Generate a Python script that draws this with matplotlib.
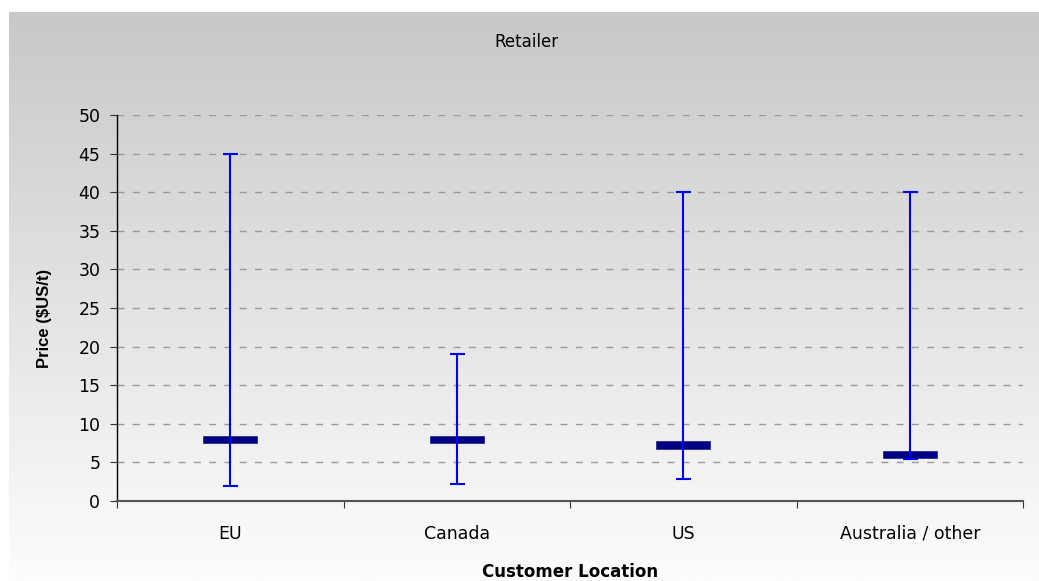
import matplotlib.pyplot as plt
import numpy as np

# price ranges by customer location (retailer)
locations = ['EU', 'Canada', 'US', 'Australia / other']
price_min = [1.9, 2.2, 2.9, 5.4]
price_max = [45, 19, 40, 40]
price_typical = [8.0, 8.0, 7.25, 6.05]

fig = plt.figure(figsize=(10.39, 5.81), dpi=100)
fig.patch.set_facecolor('white')

# gradient background of the chart area (grey at top, white at bottom)
bg = fig.add_axes([9 / 1039, 0, 1 - 9 / 1039, 1 - 12 / 581])
grad = np.linspace(0, 1, 256).reshape(-1, 1)
bg.imshow(grad, cmap=plt.matplotlib.colors.LinearSegmentedColormap.from_list(
    'bg', ['#c8c8c8', '#fdfdfd']), aspect='auto', extent=[0, 1, 0, 1], origin='upper')
bg.axis('off')

ax = fig.add_axes([117 / 1039, 1 - 501 / 581, (1023 - 117) / 1039, (501 - 115) / 581])
ax.patch.set_alpha(0)

x = np.arange(len(locations)) + 0.5
lo = np.array(price_typical) - np.array(price_min)
hi = np.array(price_max) - np.array(price_typical)

ax.bar(x, 0.95, bottom=np.array(price_typical) - 0.475, width=0.238,
       color='#000080', edgecolor='#1a1a8c', linewidth=0.5, zorder=3)
ax.errorbar(x, price_typical, yerr=[lo, hi], fmt='none', ecolor='#0000ff',
            elinewidth=1.5, capsize=5.4, capthick=1.5, zorder=4)

ax.set_xlim(0, 4)
ax.set_ylim(0, 50)
ax.set_yticks(range(0, 51, 5))
ax.set_xticks(range(0, 5))
ax.set_xticklabels([])
ax.set_xticks(x, minor=True)
ax.set_xticklabels(locations, minor=True, fontsize=12.5, family='DejaVu Sans')
ax.tick_params(axis='x', which='minor', length=0, pad=17)
ax.tick_params(axis='x', which='major', length=5, direction='out', color='#333333')
ax.tick_params(axis='y', length=5, pad=7, labelsize=12.5, color='#333333')
for lab in ax.get_yticklabels():
    lab.set_family('DejaVu Sans')

ax.yaxis.grid(True, color='#999999', linewidth=1, linestyle=(0, (5, 6)))
ax.set_axisbelow(True)
for s in ['top', 'right']:
    ax.spines[s].set_visible(False)
ax.spines['left'].set_color('black')
ax.spines['left'].set_linewidth(1)
ax.spines['bottom'].set_color('#555555')
ax.spines['bottom'].set_linewidth(1.5)

ax.set_ylabel('Price ($US/t)', fontsize=12, fontweight='bold', family='Liberation Sans')
ax.yaxis.set_label_coords(-(117 - 52) / 906, (501 - 318) / 386)
fig.text(570 / 1039, 1 - 572 / 581, 'Customer Location', ha='center', va='center',
         fontsize=12, fontweight='bold', family='DejaVu Sans')
fig.text(526 / 1039, 1 - 42 / 581, 'Retailer', ha='center', va='center',
         fontsize=12, family='DejaVu Sans')

plt.savefig('out.png', dpi=100)
